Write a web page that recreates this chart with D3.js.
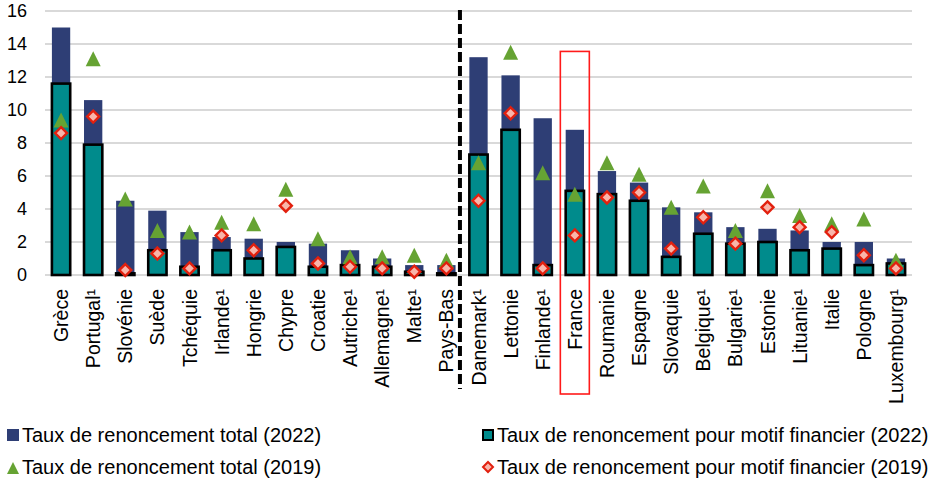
<!DOCTYPE html>
<html>
<head>
<meta charset="utf-8">
<script src="https://cdn.jsdelivr.net/npm/d3@7"></script>
<style>
  html, body { margin: 0; padding: 0; background: #fff; }
  svg { display: block; font-family: "Liberation Sans", Arial, sans-serif; }
</style>
</head>
<body>
<svg id="chart" width="936" height="484"></svg>
<script>
// Pays et taux de renoncement aux soins (%)
const categories = [
  "Grèce", "Portugal¹", "Slovénie", "Suède", "Tchéquie", "Irlande¹", "Hongrie",
  "Chypre", "Croatie", "Autriche¹", "Allemagne¹", "Malte¹", "Pays-Bas",
  "Danemark¹", "Lettonie", "Finlande¹", "France", "Roumanie", "Espagne",
  "Slovaquie", "Belgique¹", "Bulgarie¹", "Estonie", "Lituanie¹", "Italie",
  "Pologne", "Luxembourg¹"
];
const total2022 = [15.0, 10.6, 4.5, 3.9, 2.6, 2.3, 2.2, 2.0, 1.9, 1.5, 1.0, 0.6, 0.6,
  13.2, 12.1, 9.5, 8.8, 6.3, 5.6, 4.1, 3.8, 2.9, 2.8, 2.7, 2.0, 2.0, 1.0];
const financial2022 = [11.6, 7.9, 0.1, 1.5, 0.5, 1.5, 1.0, 1.7, 0.5, 0.6, 0.5, 0.2, 0.1,
  7.3, 8.8, 0.6, 5.1, 4.9, 4.5, 1.1, 2.5, 1.9, 2.0, 1.5, 1.6, 0.6, 0.7];
const total2019 = [9.4, 13.1, 4.6, 2.7, 2.6, 3.2, 3.1, 5.2, 2.2, 1.1, 1.1, 1.2, 0.9,
  6.8, 13.5, 6.2, 4.9, 6.8, 6.1, 4.1, 5.4, 2.7, 5.1, 3.6, 3.1, 3.4, 0.9];
const financial2019 = [8.6, 9.6, 0.3, 1.3, 0.4, 2.4, 1.5, 4.2, 0.7, 0.5, 0.4, 0.2, 0.4,
  4.5, 9.8, 0.4, 2.4, 4.7, 5.0, 1.6, 3.5, 1.9, 4.1, 2.9, 2.6, 1.2, 0.4];
const yTicks = [0, 2, 4, 6, 8, 10, 12, 14, 16];
const legendLabels = [
  "Taux de renoncement total (2022)",
  "Taux de renoncement pour motif financier (2022)",
  "Taux de renoncement total (2019)",
  "Taux de renoncement pour motif financier (2019)"
];
const splitAfter = "Pays-Bas";
const highlighted = "France";

const colors = {
  total: "#2e3e75",
  financial: "#008b8c",
  tri: "#66a333",
  diaFill: "#f9b5aa",
  diaStroke: "#e2200e",
  grid: "#d9d9d9"
};

const svg = d3.select("#chart");
const plot = { left: 45, right: 912, top: 11, bottom: 275 };

const x = d3.scaleBand()
  .domain(categories)
  .range([plot.left, plot.right])
  .paddingInner(0.43)
  .paddingOuter(0.215);

const y = d3.scaleLinear()
  .domain([0, 16])
  .range([plot.bottom, plot.top]);

const rows = categories.map((c, i) => ({
  c, t22: total2022[i], f22: financial2022[i], t19: total2019[i], f19: financial2019[i]
}));

// Gridlines
svg.append("g")
  .selectAll("line")
  .data(yTicks)
  .join("line")
  .attr("x1", plot.left).attr("x2", plot.right)
  .attr("y1", d => y(d)).attr("y2", d => y(d))
  .attr("stroke", colors.grid)
  .attr("stroke-width", 2);

// Y axis labels
const yAxis = svg.append("g")
  .attr("transform", `translate(${plot.left},0)`)
  .call(d3.axisLeft(y).tickValues(yTicks).tickSize(0).tickPadding(18));
yAxis.select(".domain").remove();
yAxis.selectAll("text")
  .attr("font-size", 18)
  .attr("font-family", "Liberation Sans, Arial, sans-serif")
  .attr("fill", "#000");

// Bars: total 2022
svg.append("g")
  .selectAll("rect")
  .data(rows)
  .join("rect")
  .attr("x", d => x(d.c))
  .attr("width", x.bandwidth())
  .attr("y", d => y(d.t22))
  .attr("height", d => y(0) - y(d.t22))
  .attr("fill", colors.total);

// Bars: financial 2022
svg.append("g")
  .selectAll("rect")
  .data(rows)
  .join("rect")
  .attr("x", d => x(d.c))
  .attr("width", x.bandwidth())
  .attr("y", d => y(d.f22))
  .attr("height", d => y(0) - y(d.f22))
  .attr("fill", colors.financial)
  .attr("stroke", "#000")
  .attr("stroke-width", 2.6);

const cx = d => x(d.c) + x.bandwidth() / 2;

// Triangles: total 2019
const triangle = (s) => `M0,${-s / 2}L${s / 2},${s / 2}L${-s / 2},${s / 2}Z`;
svg.append("g")
  .selectAll("path")
  .data(rows)
  .join("path")
  .attr("d", triangle(15))
  .attr("transform", d => `translate(${cx(d)},${y(d.t19)})`)
  .attr("fill", colors.tri);

// Diamonds: financial 2019
const diamond = (s) => `M0,${-s / 2}L${s / 2},0L0,${s / 2}L${-s / 2},0Z`;
svg.append("g")
  .selectAll("path")
  .data(rows)
  .join("path")
  .attr("d", diamond(12))
  .attr("transform", d => `translate(${cx(d)},${y(d.f19)})`)
  .attr("fill", colors.diaFill)
  .attr("stroke", colors.diaStroke)
  .attr("stroke-width", 2.4);

// Category labels (rotated)
svg.append("g")
  .selectAll("text")
  .data(categories)
  .join("text")
  .attr("transform", d => `translate(${x(d) + x.bandwidth() / 2},289) rotate(-90)`)
  .attr("text-anchor", "end")
  .attr("dy", "0.36em")
  .attr("font-size", 19.5)
  .attr("fill", "#000")
  .text(d => d);

// Separator between the two groups
const splitX = x(splitAfter) + x.bandwidth() + (x.step() - x.bandwidth()) / 2 - 2.5;
svg.append("line")
  .attr("x1", splitX).attr("x2", splitX)
  .attr("y1", plot.top - 1).attr("y2", 389)
  .attr("stroke", "#000")
  .attr("stroke-width", 4)
  .attr("stroke-dasharray", "10,4");

// Highlight box
const hx = x(highlighted) + x.bandwidth() / 2;
svg.append("rect")
  .attr("x", hx - 14.5)
  .attr("width", 29)
  .attr("y", y(13.55))
  .attr("height", 394 - y(13.55))
  .attr("fill", "none")
  .attr("stroke", "#ff1a1a")
  .attr("stroke-width", 1.6);

// Legend
const legend = svg.append("g").attr("font-size", 20).attr("fill", "#000");
const legendPos = [
  { x: 7, y: 435 }, { x: 482, y: 435 },
  { x: 7, y: 467 }, { x: 482, y: 467 }
];
legendPos.forEach((p, i) => {
  const g = legend.append("g").attr("transform", `translate(${p.x},${p.y})`);
  if (i === 0) {
    g.append("rect").attr("x", 0).attr("y", -6).attr("width", 12).attr("height", 12)
      .attr("fill", colors.total);
  } else if (i === 1) {
    g.append("rect").attr("x", 1).attr("y", -5).attr("width", 10).attr("height", 10)
      .attr("fill", colors.financial).attr("stroke", "#000").attr("stroke-width", 2);
  } else if (i === 2) {
    g.append("path").attr("d", triangle(12)).attr("transform", "translate(6,1)")
      .attr("fill", colors.tri);
  } else {
    g.append("path").attr("d", diamond(10)).attr("transform", "translate(6,0)")
      .attr("fill", colors.diaFill).attr("stroke", colors.diaStroke).attr("stroke-width", 2);
  }
  g.append("text")
    .attr("x", 15)
    .attr("dy", "0.36em")
    .text(legendLabels[i]);
});
</script>
</body>
</html>
